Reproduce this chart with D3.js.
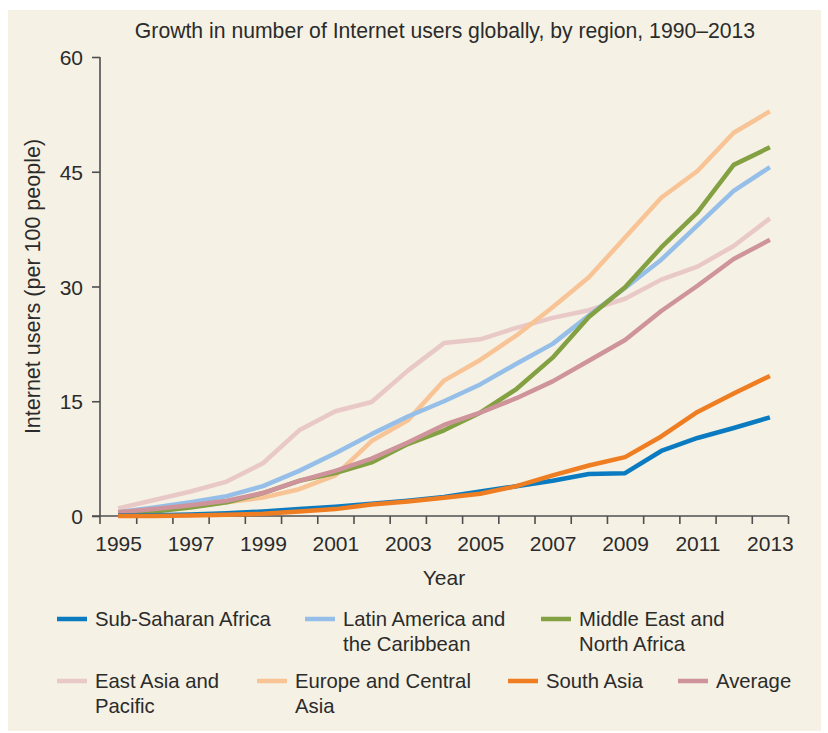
<!DOCTYPE html>
<html>
<head>
<meta charset="utf-8">
<script src="https://cdn.jsdelivr.net/npm/d3@7"></script>
<style>
  html, body { margin: 0; padding: 0; background: #ffffff; }
  svg { display: block; }
  text { font-family: "Liberation Sans", Arial, sans-serif; fill: #2b2b2b; }
</style>
</head>
<body>
<svg id="chart" width="828" height="733"></svg>
<script>
// ---------- DATA ----------
const years = [1995,1996,1997,1998,1999,2000,2001,2002,2003,2004,2005,2006,2007,2008,2009,2010,2011,2012,2013];
const xTickLabels = [1995,1997,1999,2001,2003,2005,2007,2009,2011,2013];
const yTickValues = [0,15,30,45,60];

const subSaharanAfrica = [0.05,0.1,0.2,0.35,0.6,0.9,1.2,1.6,2.0,2.5,3.2,3.9,4.6,5.5,5.6,8.5,10.2,11.5,12.9];
const latinAmerica     = [0.5,1.1,1.8,2.6,3.9,5.9,8.2,10.7,13.0,15.0,17.2,19.9,22.5,26.2,29.8,33.5,38.0,42.5,45.6];
const middleEast       = [0.2,0.6,1.1,1.8,3.0,4.6,5.6,7.0,9.4,11.2,13.5,16.6,20.7,26.0,29.9,35.1,39.7,45.9,48.2];
const eastAsia         = [1.0,2.1,3.2,4.5,6.9,11.2,13.7,14.9,19.0,22.6,23.1,24.6,25.9,26.9,28.4,30.9,32.6,35.3,38.9];
const europe           = [0.4,0.7,1.2,1.8,2.4,3.5,5.3,9.8,12.5,17.7,20.4,23.6,27.3,31.2,36.4,41.6,45.1,50.1,52.9];
const southAsia        = [0.0,0.0,0.05,0.15,0.3,0.6,0.9,1.5,1.9,2.4,2.9,3.9,5.3,6.6,7.7,10.4,13.6,16.0,18.3];
const average          = [0.5,0.9,1.4,2.0,3.0,4.6,5.9,7.5,9.6,11.9,13.5,15.4,17.6,20.3,23.0,26.8,30.1,33.6,36.1];

const seriesNames = ["Sub-Saharan Africa","Latin America and the Caribbean","Middle East and North Africa",
                     "East Asia and Pacific","Europe and Central Asia","South Asia","Average"];
const legendLines = [["Sub-Saharan Africa"],["Latin America and","the Caribbean"],["Middle East and","North Africa"],
                     ["East Asia and","Pacific"],["Europe and Central","Asia"],["South Asia"],["Average"]];
const seriesColors = ["#0b7bc1","#95bfe8","#83a042","#e9c8c8","#f8c496","#ef7d22","#cf949b"];
const seriesValues = [subSaharanAfrica, latinAmerica, middleEast, eastAsia, europe, southAsia, average];
// drawing order (back to front)
const drawOrder = [3,4,1,2,6,0,5];

const titleText = "Growth in number of Internet users globally, by region, 1990\u20132013";
const xTitle = "Year";
const yTitle = "Internet users (per 100 people)";

// ---------- CHART ----------
(function() {
const svg = d3.select("#chart");
svg.append("rect").attr("x",8).attr("y",10).attr("width",813).attr("height",721).attr("fill","#f5f1e4");

const mLeft = 100, mRight = 788, mTop = 57, mBottom = 516;
const x = d3.scaleLinear().domain([years[0]-0.5, years[years.length-1]+0.5]).range([mLeft,mRight]);
const y = d3.scaleLinear().domain([0,60]).range([mBottom,mTop]);

const axisColor = "#4f4f4f";
const fontFam = "Liberation Sans, Arial, sans-serif";

// title
svg.append("text").attr("x",445).attr("y",38).attr("text-anchor","middle")
  .style("font-size","21.2px").text(titleText);

// y axis
const yAxis = svg.append("g").attr("transform",`translate(${mLeft},0)`)
  .call(d3.axisLeft(y).tickValues(yTickValues).tickSize(8).tickPadding(9).tickSizeOuter(0));
yAxis.select(".domain").attr("stroke",axisColor).attr("stroke-width",1.6)
  .attr("d",`M0,${mTop}V${mBottom+8}`);
yAxis.selectAll(".tick line").attr("stroke",axisColor).attr("stroke-width",1.6);
yAxis.selectAll(".tick text").style("font-size","21px").style("font-family",fontFam).attr("fill","#2b2b2b").attr("dy","0.36em");

// x axis ticks at year boundaries
const boundaryTicks = years.slice(1).map(v => v - 0.5).concat([years[years.length-1]+0.5]);
const xAxisTicks = svg.append("g").attr("transform",`translate(0,${mBottom})`)
  .call(d3.axisBottom(x).tickValues(boundaryTicks).tickSize(8).tickFormat("").tickSizeOuter(0));
xAxisTicks.select(".domain").attr("stroke",axisColor).attr("stroke-width",1.6)
  .attr("d",`M${mLeft-8},0H${mRight}`);
xAxisTicks.selectAll(".tick line").attr("stroke",axisColor).attr("stroke-width",1.6);

// x axis labels
const xAxisLabels = svg.append("g").attr("transform",`translate(0,${mBottom})`)
  .call(d3.axisBottom(x).tickValues(xTickLabels).tickSize(0).tickPadding(20).tickFormat(d3.format("d")));
xAxisLabels.select(".domain").remove();
xAxisLabels.selectAll(".tick text").style("font-size","21px").style("font-family",fontFam).attr("fill","#2b2b2b");

// axis titles
svg.append("text").attr("x",(mLeft+mRight)/2).attr("y",585).attr("text-anchor","middle")
  .style("font-size","21px").text(xTitle);
svg.append("text").attr("transform",`translate(40,${(mTop+mBottom)/2}) rotate(-90)`).attr("text-anchor","middle")
  .style("font-size","21.5px").text(yTitle);

// lines
const line = d3.line().x((d,i) => x(years[i])).y(d => y(d));
drawOrder.forEach(k => {
  svg.append("path").datum(seriesValues[k])
    .attr("fill","none").attr("stroke",seriesColors[k]).attr("stroke-width",4.5)
    .attr("stroke-linejoin","round").attr("d",line);
});

// legend
const legendPos = [[57,626],[305,626],[541,626],[57,688],[257,688],[508,688],[678,688]];
legendPos.forEach((p,k) => {
  const g = svg.append("g").attr("transform",`translate(${p[0]},${p[1]})`);
  g.append("line").attr("x1",0).attr("x2",30).attr("y1",-7).attr("y2",-7)
    .attr("stroke",seriesColors[k]).attr("stroke-width",4.5);
  const t = g.append("text").attr("x",38).attr("y",0).style("font-size","20.3px");
  legendLines[k].forEach((s,j) => {
    t.append("tspan").attr("x",38).attr("dy", j===0 ? 0 : 25).text(s);
  });
});
})();
</script>
</body>
</html>
